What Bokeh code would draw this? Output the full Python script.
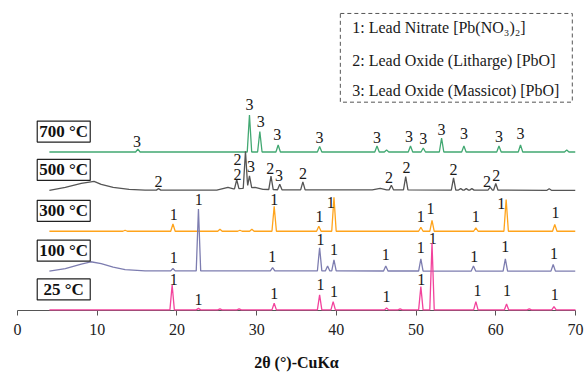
import numpy as np
from bokeh.plotting import figure
from bokeh.models import Range1d, FixedTicker, ColumnDataSource
from bokeh.embed import file_html
from bokeh.resources import INLINE
from bokeh.core.properties import value

# ---------------- data ----------------
series_names = ["700 °C", "500 °C", "300 °C", "100 °C", "25 °C"]
x_ticks = [0, 10, 20, 30, 40, 50, 60, 70]
x_title = "2θ (°)-CuKα"
legend_lines = ["1: Lead Nitrate [Pb(NO₃)₂]",
                "2: Lead Oxide (Litharge) [PbO]",
                "3: Lead Oxide (Massicot) [PbO]"]

# background (amorphous hump) points: 2theta, intensity
bg700_x = [4, 70]
bg700_y = [0, 0]
bg500_x = [4, 6, 8, 9.6, 10.5, 12, 14, 16, 25, 26.4, 27.1, 28.2, 29.8, 30.8, 33.5, 44.5, 45.5, 46.3, 70]
bg500_y = [0, 3, 7, 9, 6, 3, 1, 0.3, 0.3, 3, 1.5, 2, 3, 1, 0.5, 0.5, 2, 0.5, 0]
bg300_x = [4, 70]
bg300_y = [0, 0]
bg100_x = [4, 6, 8, 9.2, 10.5, 12, 13.5, 16, 70]
bg100_y = [0, 2.5, 7, 9.4, 7.5, 4, 1.5, 0.3, 0]
bg25_x = [4, 70]
bg25_y = [0, 0]

# peaks: position (2theta) and height
pk700_pos = [15.1, 29.1, 30.4, 32.7, 37.9, 45.1, 46.3, 49.3, 50.9, 53.2, 56.0, 60.4, 63.1, 68.9]
pk700_h   = [3, 37, 20.6, 7, 5.6, 6, 2, 6, 4, 14, 6, 6, 7, 2]
pk500_pos = [17.7, 27.5, 28.6, 29.1, 31.8, 32.9, 35.8, 46.9, 48.7, 54.7, 55.6, 56.3, 57.0, 59.3, 60.0, 66.7]
pk500_h   = [1.5, 9, 37, 12, 13.5, 5.5, 8, 4.7, 13.3, 12.3, 1.5, 1.5, 1.5, 3, 6.7, 1.5]
pk300_pos = [13.5, 19.5, 25.4, 27.9, 29.4, 32.2, 37.8, 39.7, 50.6, 52.0, 57.5, 61.3, 67.4]
pk300_h   = [1, 7.3, 2, 1, 2, 25, 5, 34, 4, 11, 3.3, 31.7, 6.7]
pk100_pos = [19.5, 22.7, 32.0, 37.9, 38.9, 39.7, 46.2, 50.6, 57.2, 61.2, 67.2]
pk100_h   = [2.3, 62, 3.3, 23.3, 5, 11, 5, 12.3, 5, 12.3, 6.7]
pk25_pos  = [19.4, 22.7, 25.4, 27.8, 32.2, 37.9, 39.6, 46.3, 48.0, 50.6, 52.0, 57.5, 61.35, 64.2, 67.3]
pk25_h    = [25, 1.5, 1, 1, 6.7, 15, 8.3, 2, 1, 23.3, 67, 8.3, 6, 1, 3.3]

# phase labels: position, height above the series baseline, text
lb700_x = [15.0, 29.1, 30.5, 32.6, 37.9, 45.1, 49.1, 50.9, 53.2, 56.0, 60.4, 63.1]
lb700_h = [10.6, 47.3, 30.6, 17.3, 14.3, 14.3, 15.6, 14, 22.3, 19, 15.6, 19]
lb700_t = ["3"] * 12
lb500_x = [17.7, 27.6, 27.6, 29.3, 31.7, 32.8, 35.8, 46.6, 48.8, 54.7, 58.9, 60.05]
lb500_h = [9, 15.7, 30.7, 24, 22.4, 14.7, 16.7, 13.4, 23, 20.7, 9, 14.7]
lb500_t = ["2", "2", "2", "3", "2", "3", "2", "2", "2", "2", "2", "2"]
lb300_x = [19.6, 32.2, 37.9, 39.3, 50.6, 51.8, 57.5, 60.7, 67.5]
lb300_h = [16.7, 31.7, 15, 29, 14.4, 23, 14.4, 27.7, 18.4]
lb300_t = ["1"] * 9
lb100_x = [19.6, 22.75, 31.95, 38.0, 39.7, 46.2, 50.6, 57.3, 61.2, 67.3]
lb100_h = [13.4, 71.7, 15, 31.7, 21.7, 16.7, 23.4, 15, 25, 17.7]
lb100_t = ["1"] * 10
lb25_x = [19.6, 22.7, 32.2, 38.0, 39.7, 46.3, 50.65, 52.1, 57.7, 61.4, 67.4]
lb25_h = [30, 10, 16.7, 25, 18.3, 13.3, 30, 72, 19.3, 19.3, 15]
lb25_t = ["1"] * 11

# ---------------- layout / style ----------------
offsets = [159, 120.5, 79.5, 39.5, 0.6]
colors = ["#42a872", "#555555", "#ffa41c", "#7d7db0", "#f2439c"]
W = 0.28
SERIF = "Liberation Serif"

bgs = [(bg700_x, bg700_y), (bg500_x, bg500_y), (bg300_x, bg300_y), (bg100_x, bg100_y), (bg25_x, bg25_y)]
pks = [(pk700_pos, pk700_h), (pk500_pos, pk500_h), (pk300_pos, pk300_h), (pk100_pos, pk100_h), (pk25_pos, pk25_h)]
lbs = [(lb700_x, lb700_h, lb700_t), (lb500_x, lb500_h, lb500_t), (lb300_x, lb300_h, lb300_t),
       (lb100_x, lb100_h, lb100_t), (lb25_x, lb25_h, lb25_t)]


def trace(bx, by, pos, h):
    xs = set(bx)
    for p_ in pos:
        xs.update([p_ - W, p_, p_ + W])
    xs = np.array(sorted(x for x in xs if 4 <= x <= 70))
    ys = np.interp(xs, bx, by)
    for p_, hh in zip(pos, h):
        ys = ys + hh * np.clip(1 - np.abs(xs - p_) / W, 0, None)
    return xs, ys


p = figure(width=585, height=373, output_backend="svg", toolbar_location=None,
           x_range=Range1d(0, 70), y_range=Range1d(0, 311), y_axis_type=None,
           min_border_left=17, min_border_right=10, min_border_top=0, min_border_bottom=62)
p.outline_line_color = None
p.xgrid.visible = False
p.background_fill_color = "white"

for i in range(5):
    bx, by = bgs[i]
    pos, h = pks[i]
    xs, ys = trace(bx, by, pos, h)
    r = p.line(xs, ys + offsets[i], line_color=colors[i], line_width=1.3)
    if i == 4:
        r.level = "overlay"
    lx, lh, lt = lbs[i]
    src = ColumnDataSource(dict(x=lx, y=[v + offsets[i] for v in lh], t=lt))
    p.text(x="x", y="y", text="t", source=src, text_font=value(SERIF), text_font_size="16px",
           text_align="center", text_baseline="middle", text_color="#1a1a1a")

# temperature boxes
box_src = ColumnDataSource(dict(x=[5.8] * 5, y=[o + 20.5 for o in offsets], t=series_names))
p.rect(x="x", y="y", width=53, height=21, width_units="screen", height_units="screen",
       source=box_src, fill_color="white", line_color="#222222", line_width=1.2)
p.text(x="x", y="y", text="t", source=box_src, text_font=value(SERIF), text_font_size="17px",
       text_font_style="bold", text_align="center", text_baseline="middle", text_color="#111111")

# legend box (dashed frame)
p.quad(left=[40.5], right=[69.6], bottom=[209], top=[298], fill_color=None,
       line_color="#555555", line_dash="4 3", line_width=1)
leg_src = ColumnDataSource(dict(x=[42.0] * 3, y=[284.3, 251, 221], t=legend_lines))
p.text(x="x", y="y", text="t", source=leg_src, text_font=value(SERIF), text_font_size="16px",
       text_align="left", text_baseline="middle", text_color="#1a1a1a")

ax = p.xaxis[0]
ax.ticker = FixedTicker(ticks=x_ticks)
ax.axis_label = x_title
ax.axis_label_text_font = SERIF
ax.axis_label_text_font_size = "16px"
ax.axis_label_text_font_style = "bold"
ax.axis_label_text_color = "#111111"
ax.axis_label_standoff = 16
ax.major_label_text_font = SERIF
ax.major_label_text_font_size = "16px"
ax.major_label_text_color = "#222222"
ax.major_label_standoff = 8
ax.axis_line_color = "#555555"
ax.major_tick_line_color = "#555555"
ax.major_tick_out = 5
ax.major_tick_in = 0
ax.minor_tick_out = 0
ax.minor_tick_in = 0

open("out.html", "w").write(file_html(p, INLINE))
